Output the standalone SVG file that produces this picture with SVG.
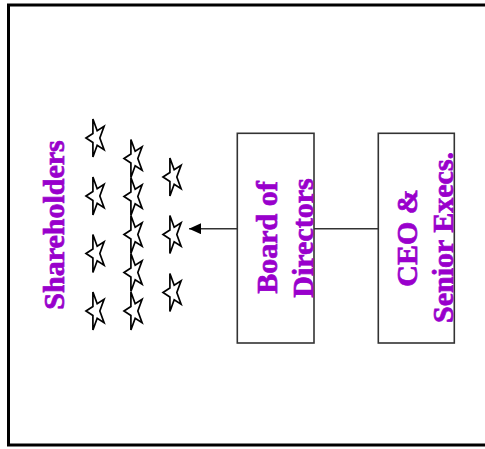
<svg xmlns="http://www.w3.org/2000/svg" xmlns:xlink="http://www.w3.org/1999/xlink" width="485" height="449" viewBox="0 0 485 449">
<style>
.lbl{font-family:"Liberation Serif","Times New Roman",serif;font-weight:bold;font-size:30px;fill:#9900cc;stroke:#9900cc;stroke-width:0.7;text-anchor:middle}
.box{fill:#ffffff;stroke:#333333;stroke-width:1.6}
.star{fill:#ffffff;stroke:#000000;stroke-width:1.7;stroke-linejoin:miter}
.conn{stroke:#333333;stroke-width:1.6;fill:none}
</style>
<defs>
<path id="star" d="M-10,0 L-3.09,-4.5 L-3.09,-19 L1.18,-7.26 L8.09,-11.76 L3.82,0 L8.09,11.76 L1.18,7.26 L-3.09,19 L-3.09,4.5 Z"/>
<marker id="ah" markerWidth="13" markerHeight="11" refX="12" refY="5.5" orient="auto" markerUnits="userSpaceOnUse">
<path d="M0,0 L12,5.5 L0,11 Z" fill="#000000"/>
</marker>
</defs>
<rect x="8.5" y="5" width="480" height="440" fill="#ffffff" stroke="#000000" stroke-width="3"/>
<g id="shareholders">
<text class="lbl" transform="translate(64,225) rotate(-90)">Shareholders</text>
<g class="star">
<use xlink:href="#star" x="96" y="138"/>
<use xlink:href="#star" x="96" y="196"/>
<use xlink:href="#star" x="96" y="253.5"/>
<use xlink:href="#star" x="96" y="311"/>
<use xlink:href="#star" x="134" y="158.5"/>
<use xlink:href="#star" x="134" y="196.5"/>
<use xlink:href="#star" x="134" y="234.5"/>
<use xlink:href="#star" x="134" y="272.5"/>
<use xlink:href="#star" x="134" y="311"/>
<use xlink:href="#star" x="173" y="177"/>
<use xlink:href="#star" x="173" y="234.5"/>
<use xlink:href="#star" x="173" y="292.5"/>
</g>
</g>
<g id="connectors">
<line class="conn" x1="237" y1="228.7" x2="189" y2="228.7" marker-end="url(#ah)"/>
<line class="conn" x1="314" y1="228.7" x2="378" y2="228.7"/>
</g>
<g id="board">
<rect class="box" x="237.3" y="133.3" width="76.7" height="209.7"/>
<text class="lbl" transform="translate(277,237.5) rotate(-90)">Board of</text>
<text class="lbl" transform="translate(313,238) rotate(-90)">Directors</text>
</g>
<g id="ceo">
<rect class="box" x="378.3" y="133.3" width="76" height="209.7"/>
<text class="lbl" transform="translate(417,238) rotate(-90)">CEO &amp;</text>
<text class="lbl" transform="translate(453,237.5) rotate(-90)">Senior Execs.</text>
</g>
</svg>
